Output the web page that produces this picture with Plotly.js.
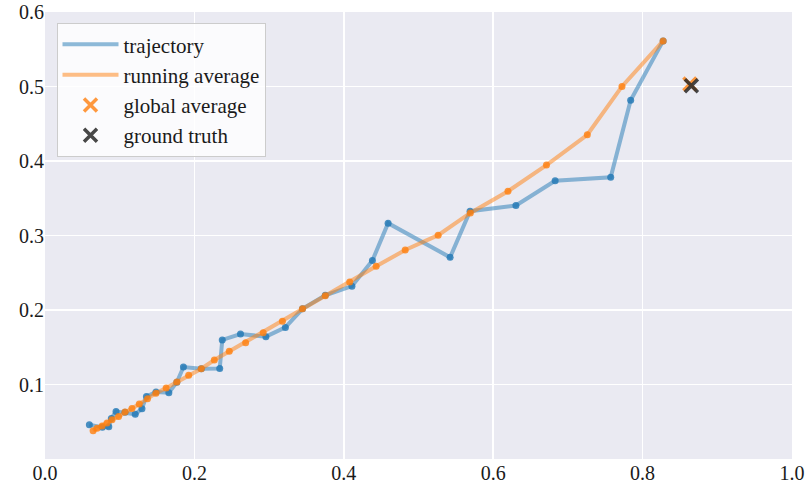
<!DOCTYPE html>
<html>
<head>
<meta charset="utf-8">
<script src="https://cdn.plot.ly/plotly-3.0.1.min.js"></script>
<style>
  html, body { margin: 0; padding: 0; background: #ffffff; }
  #chart { width: 811px; height: 490px; }
</style>
</head>
<body>
<div id="chart"></div>
<script>
// Iterate positions of the trajectory
const trajX = [0.0594, 0.0768, 0.0854, 0.0888, 0.0951, 0.1071, 0.1208, 0.1298, 0.1358, 0.1486,
               0.1658, 0.1765, 0.1853, 0.2092, 0.2339, 0.2373, 0.2617, 0.2957, 0.3218, 0.3447,
               0.3752, 0.4109, 0.4383, 0.4593, 0.5423, 0.5690, 0.6304, 0.6829, 0.7573, 0.7840,
               0.8275];
const trajY = [0.0461, 0.0425, 0.0432, 0.0545, 0.0639, 0.0626, 0.0599, 0.0676, 0.0840, 0.0900,
               0.0889, 0.1031, 0.1234, 0.1210, 0.1214, 0.1598, 0.1678, 0.1642, 0.1766, 0.2016,
               0.2197, 0.2320, 0.2664, 0.3166, 0.2707, 0.3326, 0.3402, 0.3734, 0.3781, 0.4814,
               0.5612];

// Running average of the iterates
const avgX = [0.0644, 0.0697, 0.0764, 0.0830, 0.0897, 0.0985, 0.1071, 0.1164, 0.1262, 0.1372,
              0.1485, 0.1622, 0.1765, 0.1923, 0.2092, 0.2267, 0.2467, 0.2686, 0.2921, 0.3178,
              0.3447, 0.3752, 0.4079, 0.4433, 0.4822, 0.5263, 0.5694, 0.6198, 0.6713, 0.7260,
              0.7724, 0.8275];
const avgY = [0.0378, 0.0412, 0.0443, 0.0483, 0.0528, 0.0572, 0.0630, 0.0679, 0.0737, 0.0809,
              0.0884, 0.0953, 0.1033, 0.1124, 0.1211, 0.1328, 0.1445, 0.1561, 0.1695, 0.1849,
              0.2016, 0.2190, 0.2377, 0.2587, 0.2805, 0.3005, 0.3303, 0.3594, 0.3945, 0.4352,
              0.5001, 0.5612];

// Single reference points
const globalAvg = [0.8633, 0.5035];
const groundTruth = [0.8653, 0.5010];

const xTicks = [0.0, 0.2, 0.4, 0.6, 0.8, 1.0];
const yTicks = [0.1, 0.2, 0.3, 0.4, 0.5, 0.6];

const BLUE = '31,119,180';
const ORANGE = '255,127,14';
const FONT = 'Liberation Serif, Times New Roman, serif';

const traces = [
  { x: trajX, y: trajY, mode: 'lines', name: 'trajectory',
    line: { color: `rgba(${BLUE},0.5)`, width: 4 } },
  { x: trajX, y: trajY, mode: 'markers', showlegend: false,
    marker: { color: `rgba(${BLUE},0.8)`, size: 7 } },
  { x: avgX, y: avgY, mode: 'lines', name: 'running average',
    line: { color: `rgba(${ORANGE},0.5)`, width: 4 } },
  { x: avgX, y: avgY, mode: 'markers', showlegend: false,
    marker: { color: `rgba(${ORANGE},0.8)`, size: 7 } },
  { x: [globalAvg[0]], y: [globalAvg[1]], mode: 'markers', name: 'global average',
    marker: { symbol: 'x-thin', size: 13, color: `rgba(${ORANGE},0.8)`,
              line: { color: `rgba(${ORANGE},0.8)`, width: 3.5 } } },
  { x: [groundTruth[0]], y: [groundTruth[1]], mode: 'markers', name: 'ground truth',
    marker: { symbol: 'x-thin', size: 13, color: 'rgba(40,40,40,0.85)',
              line: { color: 'rgba(40,40,40,0.85)', width: 3.5 } } }
];

const layout = {
  width: 811, height: 490,
  margin: { l: 44.5, r: 19, t: 11.5, b: 31 },
  paper_bgcolor: '#ffffff',
  plot_bgcolor: '#EAEAF2',
  font: { family: FONT, size: 21, color: '#1a1a1a' },
  showlegend: true,
  legend: {
    x: 0.0154, y: 0.975, xanchor: 'left', yanchor: 'top',
    bgcolor: 'rgba(255,255,255,0.8)', bordercolor: '#cccccc', borderwidth: 1,
    font: { family: FONT, size: 21, color: '#1a1a1a' },
    itemwidth: 56
  },
  xaxis: {
    range: [0, 1], tickvals: xTicks, tickformat: '.1f',
    showgrid: true, gridcolor: '#ffffff', gridwidth: 1.6,
    zeroline: false, showline: false, ticks: '',
    ticklabeloverflow: 'allow',
    tickfont: { family: FONT, size: 20 }
  },
  yaxis: {
    range: [0, 0.6], tickvals: yTicks, tickformat: '.1f',
    showgrid: true, gridcolor: '#ffffff', gridwidth: 1.6,
    zeroline: false, showline: false, ticks: '',
    ticklabeloverflow: 'allow',
    tickfont: { family: FONT, size: 20 }
  }
};

Plotly.newPlot('chart', traces, layout, { staticPlot: true, displayModeBar: false });
</script>
</body>
</html>
